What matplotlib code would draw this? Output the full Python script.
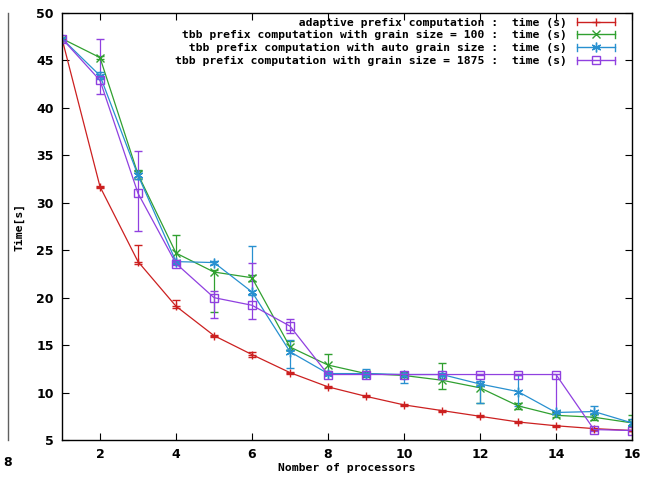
import matplotlib
matplotlib.use("Agg")
import matplotlib.pyplot as plt
from matplotlib.lines import Line2D
from matplotlib.legend_handler import HandlerBase

# processors
procs = list(range(1, 17))

# adaptive prefix computation
adaptive = [47.3, 31.7, 23.8, 19.1, 16.0, 14.0, 12.1, 10.6, 9.6, 8.7, 8.1, 7.5, 6.9, 6.5, 6.2, 6.0]
adaptive_lo = [47.3, 31.6, 23.6, 18.9, 15.9, 13.7, 12.0, 10.5, 9.5, 8.6, 8.0, 7.4, 6.8, 6.4, 6.1, 5.9]
adaptive_hi = [47.3, 31.8, 25.6, 19.8, 16.1, 14.3, 12.2, 10.7, 9.7, 8.8, 8.2, 7.6, 7.0, 6.6, 6.3, 6.1]

# tbb grain size = 100
g100 = [47.3, 45.3, 33.0, 24.7, 22.7, 22.1, 14.8, 12.9, 12.0, 11.8, 11.3, 10.5, 8.6, 7.6, 7.4, 6.8]
g100_lo = [47.3, 45.1, 32.5, 23.8, 18.5, 21.8, 14.5, 12.3, 11.8, 11.6, 10.4, 8.9, 8.3, 7.4, 7.1, 6.5]
g100_hi = [47.3, 45.5, 33.5, 26.6, 22.9, 22.4, 15.4, 14.1, 12.2, 12.0, 13.1, 10.7, 8.9, 7.8, 7.7, 7.6]

# tbb auto grain size
gauto = [47.3, 43.4, 32.9, 23.8, 23.7, 20.6, 14.3, 12.0, 12.0, 11.9, 11.9, 10.9, 10.1, 7.9, 8.0, 6.8]
gauto_lo = [47.3, 43.0, 32.5, 23.6, 23.5, 20.3, 12.6, 11.8, 11.6, 11.0, 11.7, 8.9, 8.6, 7.7, 7.4, 6.5]
gauto_hi = [47.3, 43.8, 33.3, 24.0, 23.9, 25.4, 15.5, 12.2, 12.5, 12.2, 12.1, 11.2, 11.9, 8.1, 8.6, 7.2]

# tbb grain size = 1875
g1875 = [47.3, 42.9, 31.0, 23.6, 20.0, 19.2, 17.0, 11.9, 11.9, 11.9, 11.9, 11.9, 11.9, 11.9, 6.1, 6.0]
g1875_lo = [47.3, 41.5, 27.0, 23.4, 17.9, 17.8, 16.3, 11.8, 11.8, 11.8, 11.8, 11.8, 11.8, 8.0, 6.0, 5.9]
g1875_hi = [47.3, 47.3, 35.5, 23.8, 20.7, 23.7, 17.8, 12.0, 12.0, 12.0, 12.0, 12.0, 12.0, 12.0, 6.2, 6.1]

labels = [
    "adaptive prefix computation :  time (s)",
    "tbb prefix computation with grain size = 100 :  time (s)",
    "tbb prefix computation with auto grain size :  time (s)",
    "tbb prefix computation with grain size = 1875 :  time (s)",
]

series = [
    (adaptive, adaptive_lo, adaptive_hi, "#cc2020", "+", 6),
    (g100, g100_lo, g100_hi, "#30a030", "x", 5.5),
    (gauto, gauto_lo, gauto_hi, "#2890d0", (6, 2, 0), 7),
    (g1875, g1875_lo, g1875_hi, "#9040e0", "s", 6),
]


class GnuplotHandler(HandlerBase):
    # line |---o---| like gnuplot's errorbar key sample
    def create_artists(self, legend, orig, xd, yd, w, h, fontsize, trans):
        y = h / 2 - yd
        x0, x1 = -xd, -xd + w
        c = orig.get_color()
        arts = [Line2D([x0, x1], [y, y], color=c, lw=1)]
        for xx in (x0, x1):
            arts.append(Line2D([xx, xx], [y - 2.5, y + 2.5], color=c, lw=1))
        arts.append(Line2D([(x0 + x1) / 2], [y], color=c, marker=orig.get_marker(),
                           markersize=orig.get_markersize(), mfc="none", mec=c, mew=1))
        for a in arts:
            a.set_transform(trans)
        return arts


fig = plt.figure(figsize=(6.52, 4.80), dpi=100)
ax = fig.add_axes([62 / 652, 40 / 480, 570 / 652, 427 / 480])

handles = []
for (y, lo, hi, col, mk, ms), lab in zip(series, labels):
    err = [[a - b for a, b in zip(y, lo)], [b - a for a, b in zip(y, hi)]]
    ax.errorbar(procs, y, yerr=err, color=col, lw=0.9, elinewidth=0.9,
                capsize=3, capthick=0.9, marker=mk, markersize=ms,
                mfc="none", mec=col, mew=1)
    handles.append(Line2D([], [], color=col, marker=mk, markersize=ms))

ax.set_xlim(1, 16)
ax.set_ylim(5, 50)
ax.set_xticks(range(2, 17, 2))
ax.set_yticks(range(5, 51, 5))
ax.tick_params(direction="in", top=True, right=True, length=5, width=0.8,
               labelsize=9, pad=6)
for t in ax.get_xticklabels() + ax.get_yticklabels():
    t.set_fontweight("bold")
for s in ax.spines.values():
    s.set_linewidth(1)

ax.set_xlabel("Nomber of processors", family="DejaVu Sans Mono",
              fontweight="bold", fontsize=8.2, labelpad=1)
ax.set_ylabel("Time[s]", family="DejaVu Sans Mono", fontweight="bold",
              fontsize=8.2)
ax.yaxis.set_label_coords(-0.065, 0.5)

width = max(len(l) for l in labels)
padded = [l.rjust(width) for l in labels]
leg = ax.legend(handles, padded, loc="upper right", frameon=False,
                bbox_to_anchor=(0.970, 0.9895), markerfirst=False,
                prop={"family": "DejaVu Sans Mono", "weight": "bold", "size": 8.2},
                handler_map={Line2D: GnuplotHandler()},
                handlelength=3.3, handletextpad=0.9, labelspacing=0.25,
                borderaxespad=0, borderpad=0)

# edge of the neighbouring plot cut off at the left
fig.add_artist(Line2D([8 / 652, 8 / 652], [40 / 480, 467 / 480], color="#606060", lw=1))
fig.text(8 / 652, 18 / 480, "8", ha="center", va="center", fontsize=9, fontweight="bold")

fig.savefig("out.png", dpi=100)
